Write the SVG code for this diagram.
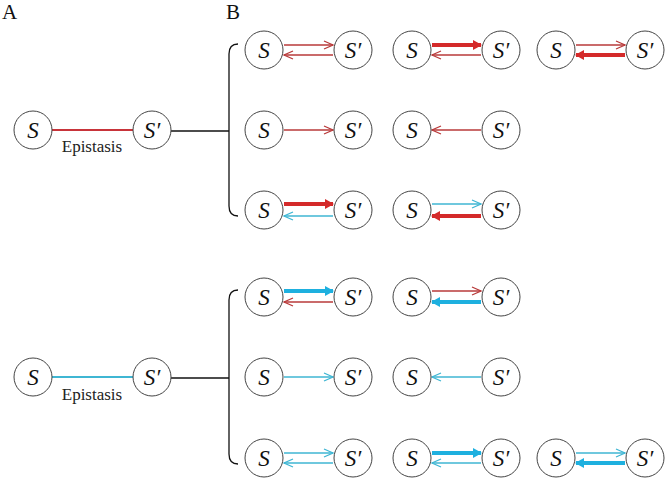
<svg xmlns="http://www.w3.org/2000/svg" width="667" height="478" viewBox="0 0 667 478">
<style>
.n circle{fill:#fff;stroke:#444;stroke-width:1}
.n text{font-family:"Liberation Serif","Times New Roman",serif;font-style:italic;font-size:23px;text-anchor:middle;fill:#111}
.lbl{font-family:"Liberation Serif","Times New Roman",serif;font-size:21px;fill:#111}
.ep{font-family:"Liberation Serif","Times New Roman",serif;font-size:17px;fill:#222;text-anchor:middle}
.tr{stroke:#b83a3a;stroke-width:1.3;fill:none;marker-end:url(#mtr)}
.tc{stroke:#3fb6d3;stroke-width:1.3;fill:none;marker-end:url(#mtc)}
.kr{stroke:#d42a2a;stroke-width:4;fill:none;marker-end:url(#mkr)}
.kc{stroke:#1eb0df;stroke-width:4;fill:none;marker-end:url(#mkc)}
.blk{stroke:#111;stroke-width:1.3;fill:none}
</style>
<defs>
<marker id="mtr" markerUnits="userSpaceOnUse" markerWidth="12" markerHeight="10" refX="9" refY="4" orient="auto" overflow="visible"><path d="M0,0 L9,4 L0,8" fill="none" stroke="#b83a3a" stroke-width="1.3"/></marker>
<marker id="mtc" markerUnits="userSpaceOnUse" markerWidth="12" markerHeight="10" refX="9" refY="4" orient="auto" overflow="visible"><path d="M0,0 L9,4 L0,8" fill="none" stroke="#3fb6d3" stroke-width="1.3"/></marker>
<marker id="mkr" markerUnits="userSpaceOnUse" markerWidth="12" markerHeight="12" refX="8" refY="5" orient="auto" overflow="visible"><path d="M0,0 L9,5 L0,10 Z" fill="#d42a2a"/></marker>
<marker id="mkc" markerUnits="userSpaceOnUse" markerWidth="12" markerHeight="12" refX="8" refY="5" orient="auto" overflow="visible"><path d="M0,0 L9,5 L0,10 Z" fill="#1eb0df"/></marker>
</defs>

<text class="lbl" x="2" y="19">A</text>
<text class="lbl" x="226" y="19">B</text>

<g id="connectors">
  <line x1="52" y1="130" x2="133" y2="130" stroke="#c8343a" stroke-width="1.8"/>
  <line x1="52" y1="377" x2="133" y2="377" stroke="#3fb6d3" stroke-width="1.8"/>
  <line class="blk" x1="171" y1="131" x2="229" y2="131"/>
  <line class="blk" x1="171" y1="378" x2="229" y2="378"/>
  <path class="blk" d="M238,44 Q229,44 229,54 L229,206 Q229,216 238,216"/>
  <path class="blk" d="M238,290 Q229,290 229,300 L229,454 Q229,464 238,464"/>
  <!-- row 1 -->
  <line class="tr" x1="284" y1="45" x2="333" y2="45"/>
  <line class="tr" x1="333" y1="55" x2="284" y2="55"/>
  <line class="kr" x1="432" y1="45" x2="481" y2="45"/>
  <line class="tr" x1="481" y1="55" x2="432" y2="55"/>
  <line class="tr" x1="576" y1="45" x2="625" y2="45"/>
  <line class="kr" x1="625" y1="55" x2="576" y2="55"/>
  <!-- row 2 -->
  <line class="tr" x1="284" y1="130" x2="333" y2="130"/>
  <line class="tr" x1="481" y1="130" x2="432" y2="130"/>
  <!-- row 3 -->
  <line class="kr" x1="284" y1="204" x2="333" y2="204"/>
  <line class="tc" x1="333" y1="216" x2="284" y2="216"/>
  <line class="tc" x1="432" y1="204" x2="481" y2="204"/>
  <line class="kr" x1="481" y1="216" x2="432" y2="216"/>
  <!-- row 4 -->
  <line class="kc" x1="284" y1="291" x2="333" y2="291"/>
  <line class="tr" x1="333" y1="302" x2="284" y2="302"/>
  <line class="tr" x1="432" y1="291" x2="481" y2="291"/>
  <line class="kc" x1="481" y1="302" x2="432" y2="302"/>
  <!-- row 5 -->
  <line class="tc" x1="284" y1="377" x2="333" y2="377"/>
  <line class="tc" x1="481" y1="377" x2="432" y2="377"/>
  <!-- row 6 -->
  <line class="tc" x1="284" y1="453" x2="333" y2="453"/>
  <line class="tc" x1="333" y1="463" x2="284" y2="463"/>
  <line class="kc" x1="432" y1="453" x2="481" y2="453"/>
  <line class="tc" x1="481" y1="463" x2="432" y2="463"/>
  <line class="tc" x1="576" y1="453" x2="625" y2="453"/>
  <line class="kc" x1="625" y1="463" x2="576" y2="463"/>
</g>

<text class="ep" x="92" y="152">Epistasis</text>
<text class="ep" x="92" y="400">Epistasis</text>

<g id="a1s" class="n"><circle cx="33" cy="130" r="19"/><text x="33" y="138">S</text></g>
<g id="a1p" class="n"><circle cx="152" cy="130" r="19"/><text x="152" y="138">S′</text></g>
<g id="a2s" class="n"><circle cx="33" cy="377" r="19"/><text x="33" y="385">S</text></g>
<g id="a2p" class="n"><circle cx="152" cy="377" r="19"/><text x="152" y="385">S′</text></g>

<g id="r1a" class="n"><circle cx="264" cy="50" r="19"/><text x="264" y="58">S</text><circle cx="353" cy="50" r="19"/><text x="353" y="58">S′</text></g>
<g id="r1b" class="n"><circle cx="412" cy="50" r="19"/><text x="412" y="58">S</text><circle cx="501" cy="50" r="19"/><text x="501" y="58">S′</text></g>
<g id="r1c" class="n"><circle cx="556" cy="50" r="19"/><text x="556" y="58">S</text><circle cx="645" cy="50" r="19"/><text x="645" y="58">S′</text></g>
<g id="r2a" class="n"><circle cx="264" cy="130" r="19"/><text x="264" y="138">S</text><circle cx="353" cy="130" r="19"/><text x="353" y="138">S′</text></g>
<g id="r2b" class="n"><circle cx="412" cy="130" r="19"/><text x="412" y="138">S</text><circle cx="501" cy="130" r="19"/><text x="501" y="138">S′</text></g>
<g id="r3a" class="n"><circle cx="264" cy="210" r="19"/><text x="264" y="218">S</text><circle cx="353" cy="210" r="19"/><text x="353" y="218">S′</text></g>
<g id="r3b" class="n"><circle cx="412" cy="210" r="19"/><text x="412" y="218">S</text><circle cx="501" cy="210" r="19"/><text x="501" y="218">S′</text></g>
<g id="r4a" class="n"><circle cx="264" cy="297" r="19"/><text x="264" y="305">S</text><circle cx="353" cy="297" r="19"/><text x="353" y="305">S′</text></g>
<g id="r4b" class="n"><circle cx="412" cy="297" r="19"/><text x="412" y="305">S</text><circle cx="501" cy="297" r="19"/><text x="501" y="305">S′</text></g>
<g id="r5a" class="n"><circle cx="264" cy="377" r="19"/><text x="264" y="385">S</text><circle cx="353" cy="377" r="19"/><text x="353" y="385">S′</text></g>
<g id="r5b" class="n"><circle cx="412" cy="377" r="19"/><text x="412" y="385">S</text><circle cx="501" cy="377" r="19"/><text x="501" y="385">S′</text></g>
<g id="r6a" class="n"><circle cx="264" cy="458" r="19"/><text x="264" y="466">S</text><circle cx="353" cy="458" r="19"/><text x="353" y="466">S′</text></g>
<g id="r6b" class="n"><circle cx="412" cy="458" r="19"/><text x="412" y="466">S</text><circle cx="501" cy="458" r="19"/><text x="501" y="466">S′</text></g>
<g id="r6c" class="n"><circle cx="556" cy="458" r="19"/><text x="556" y="466">S</text><circle cx="645" cy="458" r="19"/><text x="645" y="466">S′</text></g>
</svg>
